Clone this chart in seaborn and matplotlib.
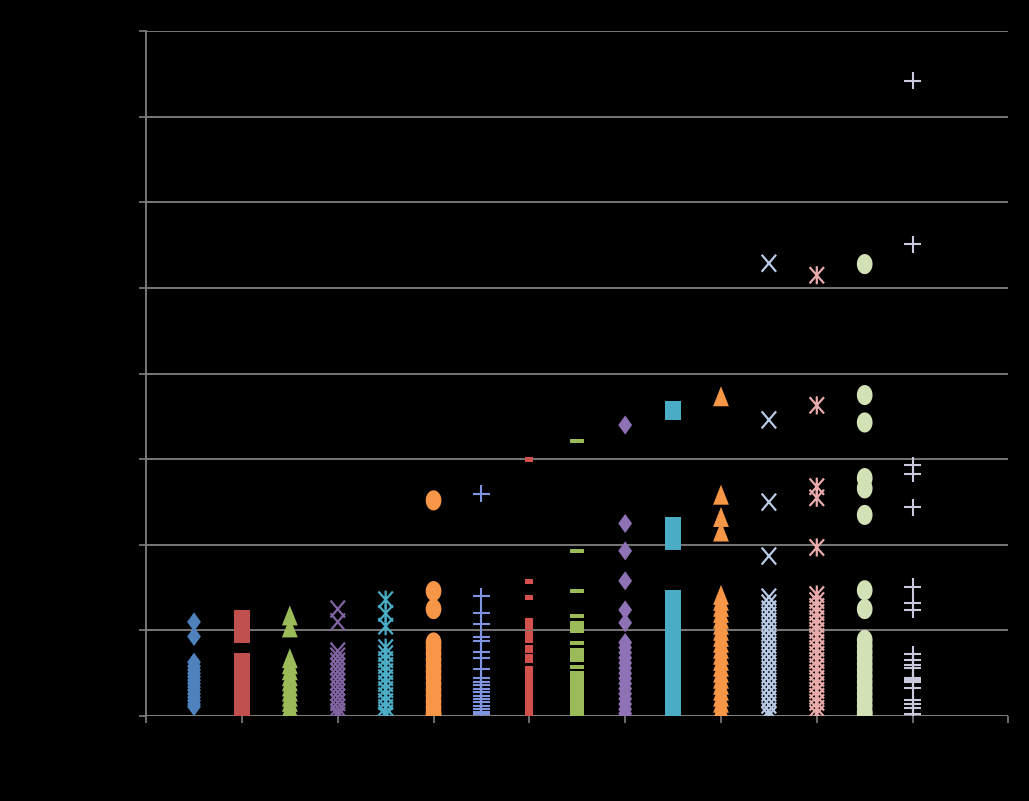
import numpy as np
import pandas as pd
import matplotlib
matplotlib.use('Agg')
import matplotlib.pyplot as plt
from matplotlib.path import Path
import seaborn as sns

# ----------------------- Données -------------------------------------------

s1 = [1.10, 0.93, 0.63, 0.58, 0.54, 0.50, 0.46, 0.42, 0.38, 0.34, 0.30, 0.26, 0.22, 0.18, 0.14, 0.11]
s2 = [1.12, 1.05, 0.97, 0.62, 0.56, 0.50, 0.44, 0.38, 0.32, 0.26, 0.20, 0.14, 0.08]
s3 = [1.17, 1.03, 0.67, 0.60, 0.53, 0.46, 0.40, 0.34, 0.28, 0.22, 0.16, 0.10, 0.04, 0.01]
s4 = [1.25, 1.10, 0.76, 0.70, 0.64, 0.58, 0.52, 0.46, 0.40, 0.34, 0.28, 0.22, 0.16, 0.10, 0.05, 0.01]
s5 = [1.36, 1.20, 1.05, 0.80, 0.73, 0.66, 0.59, 0.52, 0.45, 0.38, 0.31, 0.24, 0.17, 0.10, 0.04, 0.01]
s6 = [2.52, 1.46, 1.25, 0.86, 0.80, 0.73, 0.66, 0.59, 0.52, 0.45, 0.38, 0.31, 0.24, 0.17, 0.10, 0.04, 0.01]
s7 = [2.60, 1.40, 1.20, 1.07, 0.92, 0.88, 0.75, 0.68, 0.55, 0.44, 0.40, 0.36, 0.32, 0.28, 0.24,
      0.20, 0.16, 0.12, 0.08, 0.05, 0.02]
s8 = [3.00, 1.57, 1.39, 1.12, 1.08, 1.03, 0.97, 0.92, 0.88, 0.80, 0.76, 0.70, 0.65, 0.56, 0.52,
      0.48, 0.44, 0.40, 0.36, 0.32, 0.28, 0.24, 0.20, 0.16, 0.12, 0.08, 0.04, 0.01]
s9 = [3.21, 1.93, 1.46, 1.17, 1.09, 1.05, 1.00, 0.85, 0.77, 0.73, 0.69, 0.66, 0.57, 0.50, 0.46,
      0.42, 0.38, 0.34, 0.30, 0.26, 0.22, 0.18, 0.14, 0.10, 0.06, 0.02]
s10 = [3.40, 2.25, 1.93, 1.58, 1.24, 1.09, 0.86, 0.80, 0.74, 0.68, 0.62, 0.56, 0.50, 0.44, 0.38,
       0.32, 0.26, 0.20, 0.14, 0.08, 0.03]
s11 = [3.57, 2.21, 2.06, 1.36, 1.28, 1.20, 1.12, 1.04, 0.96, 0.88, 0.80, 0.72, 0.64, 0.56, 0.48,
       0.40, 0.32, 0.24, 0.16, 0.08, 0.01]
s12 = [3.73, 2.58, 2.32, 2.15, 1.41, 1.34, 1.27, 1.20, 1.13, 1.06, 0.99, 0.92, 0.85, 0.78, 0.71,
       0.64, 0.57, 0.50, 0.43, 0.36, 0.29, 0.22, 0.15, 0.08, 0.01]
s13 = [5.29, 3.46, 2.50, 1.87, 1.39, 1.32, 1.25, 1.18, 1.11, 1.04, 0.97, 0.90, 0.83, 0.76, 0.69,
       0.62, 0.55, 0.48, 0.41, 0.34, 0.27, 0.20, 0.13, 0.06, 0.01]
s14 = [5.15, 3.63, 2.68, 2.55, 1.97, 1.42, 1.35, 1.28, 1.21, 1.14, 1.07, 1.00, 0.93, 0.86, 0.79,
       0.72, 0.65, 0.58, 0.51, 0.44, 0.37, 0.30, 0.23, 0.16, 0.09, 0.03]
s15 = [5.28, 3.75, 3.43, 2.78, 2.66, 2.35, 1.47, 1.25, 0.89, 0.82, 0.75, 0.68, 0.61, 0.54, 0.47,
       0.40, 0.33, 0.26, 0.19, 0.12, 0.05, 0.02]
s16 = [7.42, 5.51, 2.93, 2.83, 2.44, 1.51, 1.32, 1.24, 0.72, 0.65, 0.60, 0.56, 0.44, 0.42, 0.40,
       0.33, 0.19, 0.14, 0.09, 0.03]

series = [s1, s2, s3, s4, s5, s6, s7, s8, s9, s10, s11, s12, s13, s14, s15, s16]
positions = list(range(1, 17))
noms = [f'Série{i}' for i in positions]

couleurs = ['#4F81BD', '#C0504D', '#9BBB59', '#8064A2', '#4BACC6', '#F79646',
            '#7F95E2', '#D4504C', '#9BBB59', '#8E72B5', '#4BACC6', '#F79646',
            '#B9CAE6', '#E8AAAA', '#D3E2B6', '#C9C9DD']

# ----------------------- Marqueurs façon Excel (un peu étirés) ------------------------

t = np.linspace(0, 2 * np.pi, 40)
m_diamant = [(0, 1), (0.72, 0), (0, -1), (-0.72, 0)]
m_carre = [(-0.8, -1), (0.8, -1), (0.8, 1), (-0.8, 1)]
m_triangle = [(0, 1), (0.75, -0.9), (-0.75, -0.9)]
m_ellipse = list(zip(0.78 * np.cos(t), np.sin(t)))
m_point = [(-1, -0.6), (1, -0.6), (1, 0.6), (-1, 0.6)]
m_tiret = [(-1, -0.3), (1, -0.3), (1, 0.3), (-1, 0.3)]
L, M = Path.LINETO, Path.MOVETO
m_x = Path([(-0.85, -1), (0.85, 1), (-0.85, 1), (0.85, -1)], [M, L, M, L])
m_etoile = Path([(-0.8, -0.9), (0.8, 0.9), (-0.8, 0.9), (0.8, -0.9), (0, -1), (0, 1)],
                [M, L, M, L, M, L])
m_plus = Path([(-1, 0), (1, 0), (0, -1), (0, 1)], [M, L, M, L])

styles = [
    (m_diamant, 190, 0), (m_carre, 200, 0), (m_triangle, 230, 0), (m_x, 150, 1.6),
    (m_etoile, 170, 1.6), (m_ellipse, 210, 0), (m_plus, 150, 1.5), (m_point, 34, 0),
    (m_tiret, 100, 0), (m_diamant, 190, 0), (m_carre, 200, 0), (m_triangle, 230, 0),
    (m_x, 150, 1.6), (m_etoile, 170, 1.6), (m_ellipse, 210, 0), (m_plus, 150, 1.5),
]

# ----------------------- Graphique ------------------------

sns.set_style('dark', {'axes.facecolor': 'black', 'figure.facecolor': 'black',
                       'axes.edgecolor': '#808080', 'grid.color': '#808080'})

fig = plt.figure(figsize=(10.29, 8.01), dpi=100)
ax = fig.add_axes([0.142, 0.106, 0.838, 0.855])

for nom, xpos, vals, coul, (mk, taille, lw) in zip(noms, positions, series, couleurs, styles):
    df = pd.DataFrame({'x': [xpos] * len(vals), 'y': vals})
    if lw > 0:
        sns.scatterplot(data=df, x='x', y='y', marker=mk, s=taille, color=coul,
                        edgecolor=coul, facecolor='none', linewidth=lw, ax=ax, zorder=3)
    else:
        sns.scatterplot(data=df, x='x', y='y', marker=mk, s=taille, color=coul,
                        edgecolor='none', linewidth=0, ax=ax, zorder=3)

ax.set_xlim(0, 18)
ax.set_ylim(0, 8)
ax.set_xticks(range(0, 19, 2))
ax.set_yticks(range(0, 9))
ax.grid(axis='y', color='#808080', linewidth=1.3)
ax.grid(axis='x', visible=False)
ax.set_axisbelow(True)
for cote in ['top', 'right', 'bottom']:
    ax.spines[cote].set_visible(False)
ax.spines['left'].set_color('#808080')
ax.spines['left'].set_linewidth(1.3)
ax.axhline(0, color='#808080', linewidth=1.3, zorder=1)
ax.tick_params(axis='both', colors='#808080', labelcolor='black', length=5, width=1.2,
               direction='out', bottom=True, left=True)
ax.set_xlabel('')
ax.set_ylabel('')

plt.savefig('out.png', dpi=100, facecolor='black')
